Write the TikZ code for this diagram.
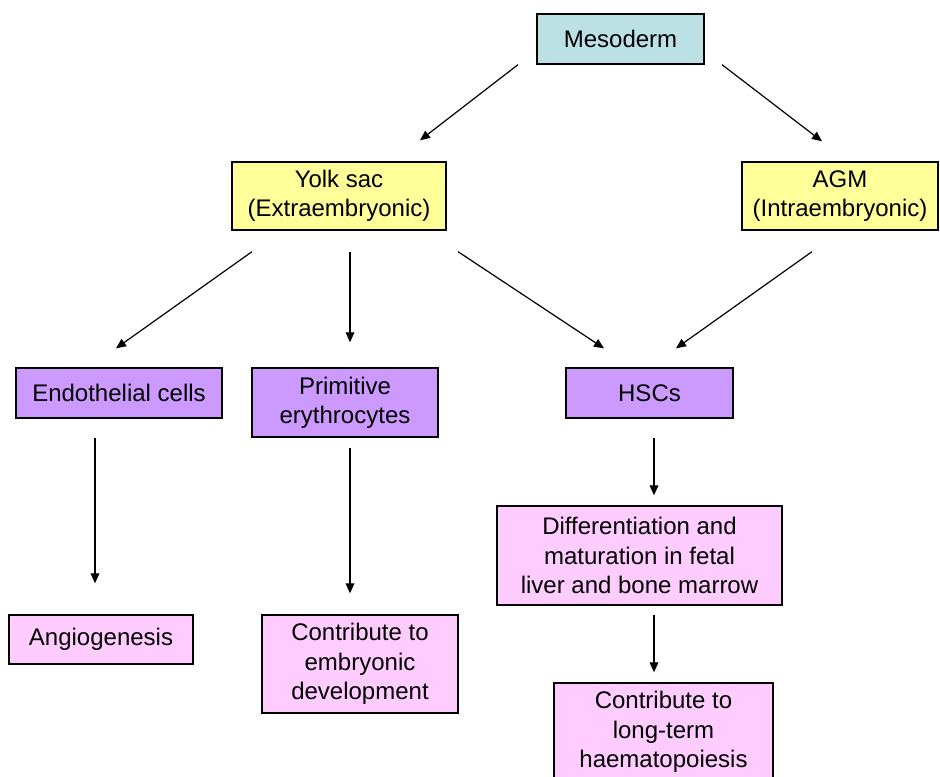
\documentclass[tikz,border=0pt]{standalone}
\usepackage{fontspec}
\setmainfont{Liberation Sans}
\usetikzlibrary{arrows.meta,calc}
\newdimen\pxu \pxu=0.75pt
\definecolor{cyanfill}{HTML}{BCE1E4}
\definecolor{yellowfill}{HTML}{FFFF99}
\definecolor{purplefill}{HTML}{CC99FF}
\definecolor{pinkfill}{HTML}{FFCCFF}
\begin{document}
\begin{tikzpicture}[x=0.75pt,y=-0.75pt,
  box/.style={draw=black,line width=1pt,rectangle,inner sep=0pt,align=center,
    font=\fontsize{18}{22}\selectfont},
  arr/.style={-{Triangle[length=7.5pt,width=6.5pt]},line width=0.9pt}]
\clip (0,0) rectangle (940,777);
\fill[white] (0,0) rectangle (940,777);
\node[box,fill=cyanfill,minimum width=167\pxu,minimum height=50\pxu] (meso) at (620.5,39) {Mesoderm};
\node[box,fill=yellowfill,minimum width=214\pxu,minimum height=68\pxu] (yolk) at (339,196) {Yolk sac\\(Extraembryonic)};
\node[box,fill=yellowfill,minimum width=196\pxu,minimum height=68\pxu] (agm) at (840,196) {AGM\\(Intraembryonic)};
\node[box,fill=purplefill,minimum width=206\pxu,minimum height=50\pxu] (endo) at (119,393) {Endothelial cells};
\node[box,fill=purplefill,minimum width=186\pxu,minimum height=69\pxu] (prim) at (345,402.5) {Primitive\\erythrocytes};
\node[box,fill=purplefill,minimum width=167\pxu,minimum height=50\pxu] (hsc) at (649.5,393) {HSCs};
\node[box,fill=pinkfill,minimum width=285\pxu,minimum height=99\pxu] (diff) at (639.5,555.5) {Differentiation and\\maturation in fetal\\liver and bone marrow};
\node[box,fill=pinkfill,minimum width=184\pxu,minimum height=49\pxu] (angio) at (101,639.5) {Angiogenesis};
\node[box,fill=pinkfill,minimum width=196\pxu,minimum height=98\pxu] (emb) at (360,664) {Contribute to\\embryonic\\development};
\node[box,fill=pinkfill,minimum width=219\pxu,minimum height=98\pxu] (lt) at (663.5,732) {Contribute to\\long-term\\haematopoiesis};
% connectors
\draw[arr] ($(meso.south)+(-102.5,0)$) -- ($(yolk.north)+(81,-21)$);
\draw[arr] ($(meso.south)+(101.5,0)$) -- ($(agm.north)+(-18,-20)$);
\draw[arr] ($(yolk.south)+(-87,21)$) -- ($(endo.north)+(-3,-19)$);
\draw[arr] ($(yolk.south)+(11,21)$) -- ($(prim.north)+(5,-25)$);
\draw[arr] ($(yolk.south)+(119,21)$) -- ($(hsc.north)+(-45.5,-19)$);
\draw[arr] ($(agm.south)+(-28,21)$) -- ($(hsc.north)+(26.5,-19)$);
\draw[arr] ($(endo.south)+(-24,19)$) -- ($(angio.north)+(-6,-31)$);
\draw[arr] ($(prim.south)+(5,10)$) -- ($(emb.north)+(-10,-21)$);
\draw[arr] ($(hsc.south)+(4.5,19)$) -- ($(diff.north)+(14.5,-10)$);
\draw[arr] ($(diff.south)+(14.5,9)$) -- ($(lt.north)+(-9.5,-10)$);
\end{tikzpicture}
\end{document}
